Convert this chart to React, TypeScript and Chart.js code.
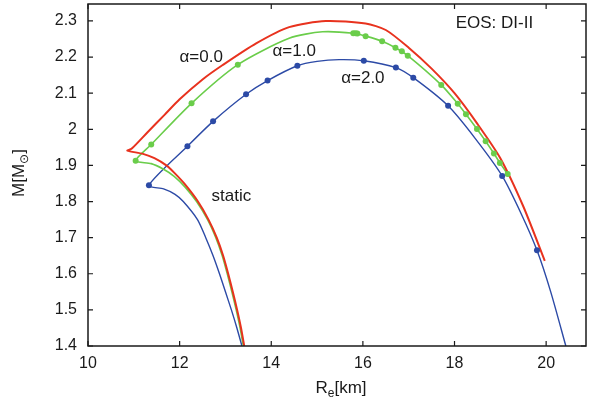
import React, { useEffect, useRef } from "react";
import { Chart, registerables } from "chart.js";

Chart.register(...registerables);

// alpha = 0.0 (red) curve, traced from bottom of the lower branch, through the cusp, along the upper branch
const redCurve: [number, number][] = [
  [13.41, 1.4], [13.34, 1.45], [13.255, 1.5], [13.16, 1.55], [13.06, 1.6], [12.95, 1.65],
  [12.81, 1.7], [12.63, 1.75], [12.4, 1.8], [12.1, 1.85], [11.88, 1.88], [11.71, 1.9],
  [11.45, 1.92], [11.2, 1.932], [10.86, 1.941], [10.95, 1.946], [11.3, 1.992], [11.67, 2.04],
  [12.0, 2.083], [12.5, 2.138], [12.94, 2.178], [13.67, 2.238], [14.39, 2.283], [15.19, 2.3],
  [16.06, 2.293], [16.5, 2.275], [17.0, 2.226], [17.5, 2.168], [18.0, 2.1], [18.5, 2.015],
  [19.0, 1.92], [19.5, 1.787], [19.97, 1.636],
];

// alpha = 1.0 (green) curve
const greenCurve: [number, number][] = [
  [13.39, 1.4], [13.32, 1.45], [13.235, 1.5], [13.14, 1.55], [13.04, 1.6], [12.93, 1.65],
  [12.79, 1.7], [12.61, 1.75], [12.37, 1.8], [12.12, 1.84], [11.88, 1.87], [11.64, 1.89],
  [11.38, 1.905], [11.04, 1.913], [11.38, 1.958], [12.26, 2.072], [13.27, 2.179], [14.39, 2.252],
  [15.12, 2.27], [15.8, 2.266], [16.06, 2.258], [16.42, 2.244], [16.71, 2.226], [16.98, 2.204],
  [17.71, 2.123], [18.07, 2.071], [18.25, 2.042], [18.49, 2.001], [18.68, 1.967], [18.86, 1.933],
  [18.99, 1.907], [19.16, 1.876],
];
const greenMarks: [number, number][] = [
  [11.04, 1.913], [11.38, 1.958], [12.26, 2.072], [13.27, 2.179], [15.79, 2.266], [15.84, 2.266],
  [15.88, 2.265], [16.06, 2.258], [16.42, 2.244], [16.71, 2.226], [16.85, 2.216], [16.98, 2.204],
  [17.71, 2.123], [18.07, 2.071], [18.25, 2.042], [18.49, 2.001], [18.68, 1.967], [18.86, 1.933],
  [18.99, 1.907], [19.16, 1.876],
];

// alpha = 2.0 (blue) curve
const blueCurve: [number, number][] = [
  [13.36, 1.4], [13.25, 1.45], [13.13, 1.5], [13.0, 1.55], [12.87, 1.6], [12.73, 1.65],
  [12.57, 1.7], [12.39, 1.75], [12.08, 1.8], [11.9, 1.82], [11.65, 1.835], [11.33, 1.845],
  [12.17, 1.953], [12.73, 2.022], [13.45, 2.097], [13.92, 2.135], [14.57, 2.176], [15.0, 2.188],
  [15.48, 2.193], [16.02, 2.19], [16.72, 2.171], [17.1, 2.143], [17.86, 2.065], [18.45, 1.975],
  [19.04, 1.871], [19.46, 1.765], [19.8, 1.665], [20.1, 1.55], [20.43, 1.4],
];
const blueMarks: [number, number][] = [
  [11.33, 1.845], [12.17, 1.953], [12.73, 2.022], [13.45, 2.097], [13.92, 2.135], [14.57, 2.176],
  [16.02, 2.19], [16.72, 2.171], [17.1, 2.143], [17.86, 2.065], [19.04, 1.871], [19.8, 1.665],
];

const xTicks = [10, 12, 14, 16, 18, 20];
const yTicks = [1.4, 1.5, 1.6, 1.7, 1.8, 1.9, 2.0, 2.1, 2.2, 2.3];

// text annotations: [label, x, y] in data coordinates
const annotations: [string, number, number][] = [
  ["\u03B1=0.0", 12.47, 2.2],
  ["\u03B1=1.0", 14.5, 2.216],
  ["\u03B1=2.0", 16.0, 2.142],
  ["static", 13.13, 1.814],
  ["EOS: DI-II", 18.87, 2.293],
];

const RED = "#e8321e";
const GREEN = "#6acd4a";
const BLUE = "#2c4aa6";
const FONT = "'Liberation Sans', Arial, Helvetica, sans-serif";

const toPts = (arr: [number, number][]) => arr.map(([x, y]) => ({ x, y }));

const framePlugin = {
  id: "frameAndText",
  afterDraw(chart: any) {
    const { ctx, chartArea: a, scales } = chart;
    const xs = scales.x;
    const ys = scales.y;
    ctx.save();
    ctx.strokeStyle = "#1a1a1a";
    ctx.lineWidth = 1.5;
    ctx.strokeRect(a.left, a.top, a.right - a.left, a.bottom - a.top);
    ctx.lineWidth = 1.2;
    ctx.beginPath();
    xTicks.forEach((v) => {
      const px = xs.getPixelForValue(v);
      ctx.moveTo(px, a.bottom);
      ctx.lineTo(px, a.bottom - 5);
      ctx.moveTo(px, a.top);
      ctx.lineTo(px, a.top + 5);
    });
    yTicks.forEach((v) => {
      const py = ys.getPixelForValue(v);
      ctx.moveTo(a.left, py);
      ctx.lineTo(a.left + 5, py);
      ctx.moveTo(a.right, py);
      ctx.lineTo(a.right - 5, py);
    });
    ctx.stroke();

    ctx.fillStyle = "#1a1a1a";
    ctx.textAlign = "center";
    ctx.textBaseline = "middle";
    ctx.font = `17px ${FONT}`;
    annotations.forEach(([t, x, y]) => {
      ctx.fillText(t, xs.getPixelForValue(x), ys.getPixelForValue(y));
    });

    // x title: R_e[km]
    const big = `17px ${FONT}`;
    const small = `12px ${FONT}`;
    ctx.textAlign = "left";
    ctx.textBaseline = "alphabetic";
    ctx.font = big;
    const wR = ctx.measureText("R").width;
    const wK = ctx.measureText("[km]").width;
    ctx.font = small;
    const wE = ctx.measureText("e").width;
    let sx = 341 - (wR + wE + wK) / 2;
    const by = 393;
    ctx.font = big;
    ctx.fillText("R", sx, by);
    ctx.font = small;
    ctx.fillText("e", sx + wR, by + 4);
    ctx.font = big;
    ctx.fillText("[km]", sx + wR + wE, by);

    // y title: M[M_sun]
    ctx.save();
    ctx.translate(24, 173);
    ctx.rotate(-Math.PI / 2);
    ctx.font = big;
    const wA = ctx.measureText("M[M").width;
    const wB = ctx.measureText("]").width;
    ctx.font = small;
    const wS = ctx.measureText("\u2299").width;
    sx = -(wA + wS + wB) / 2;
    ctx.font = big;
    ctx.fillText("M[M", sx, 0);
    ctx.font = small;
    ctx.fillText("\u2299", sx + wA, 4);
    ctx.font = big;
    ctx.fillText("]", sx + wA + wS, 0);
    ctx.restore();

    ctx.restore();
  },
};

export default function App() {
  const ref = useRef<HTMLCanvasElement | null>(null);

  useEffect(() => {
    document.body.style.margin = "0";
    document.body.style.overflow = "hidden";
    const canvas = ref.current;
    if (!canvas) return;
    const lineBase = { showLine: true, pointRadius: 0, tension: 0.25, fill: false };
    const chart = new Chart(canvas, {
      type: "scatter",
      data: {
        datasets: [
          { label: "blue marks", data: toPts(blueMarks), showLine: false, pointRadius: 3, pointBackgroundColor: BLUE, pointBorderColor: BLUE, borderWidth: 0 } as any,
          { label: "green marks", data: toPts(greenMarks), showLine: false, pointRadius: 3, pointBackgroundColor: GREEN, pointBorderColor: GREEN, borderWidth: 0 } as any,
          { label: "alpha=0.0", data: toPts(redCurve), borderColor: RED, borderWidth: 2, ...lineBase } as any,
          { label: "alpha=1.0", data: toPts(greenCurve), borderColor: GREEN, borderWidth: 1.6, ...lineBase } as any,
          { label: "alpha=2.0", data: toPts(blueCurve), borderColor: BLUE, borderWidth: 1.4, ...lineBase } as any,
        ],
      },
      options: {
        animation: false,
        responsive: true,
        maintainAspectRatio: false,
        layout: { padding: { top: 3, right: 1, left: 0, bottom: 0 } },
        plugins: { legend: { display: false }, tooltip: { enabled: false } },
        scales: {
          x: {
            type: "linear",
            min: 10,
            max: 20.87,
            grid: { display: false, drawTicks: false },
            border: { display: false },
            afterBuildTicks: (s: any) => {
              s.ticks = xTicks.map((v) => ({ value: v }));
            },
            afterFit: (s: any) => {
              s.height = 56;
              s.paddingLeft = 0;
              s.paddingRight = 0;
            },
            ticks: {
              autoSkip: false,
              maxRotation: 0,
              padding: 8,
              color: "#1a1a1a",
              font: { family: FONT, size: 16 },
              callback: (v: any) => String(v),
            },
          },
          y: {
            type: "linear",
            min: 1.4,
            max: 2.347,
            grid: { display: false, drawTicks: false },
            border: { display: false },
            afterBuildTicks: (s: any) => {
              s.ticks = yTicks.map((v) => ({ value: v }));
            },
            afterFit: (s: any) => {
              s.width = 88;
              s.paddingTop = 0;
              s.paddingBottom = 0;
            },
            ticks: {
              autoSkip: false,
              padding: 11,
              color: "#1a1a1a",
              font: { family: FONT, size: 16 },
              callback: (v: any) => (Math.abs(Number(v) - 2) < 1e-9 ? "2" : Number(v).toFixed(1)),
            },
          },
        },
      } as any,
      plugins: [framePlugin],
    });
    return () => chart.destroy();
  }, []);

  return (
    <div style={{ width: 590, height: 402, position: "relative" }}>
      <canvas ref={ref} />
    </div>
  );
}
